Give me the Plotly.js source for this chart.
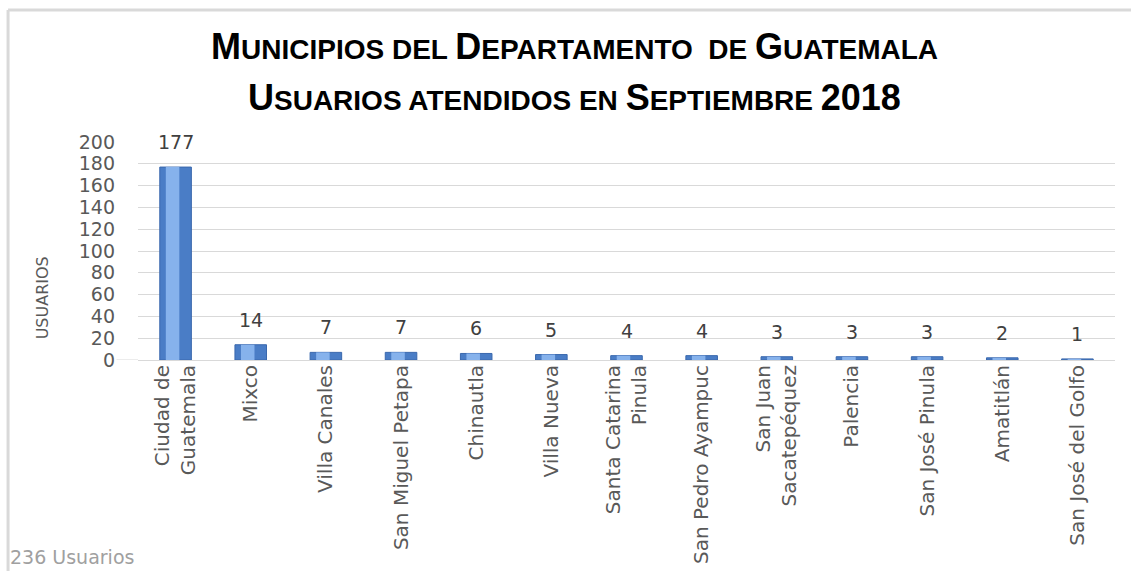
<!DOCTYPE html>
<html>
<head>
<meta charset="utf-8">
<script src="https://cdn.plot.ly/plotly-3.0.1.min.js"></script>
<style>html,body{margin:0;padding:0;background:#fff;}#chart{width:1131px;height:571px;}</style>
</head>
<body>
<div id="chart"></div>
<script>
const municipios = ["Ciudad de<br>Guatemala","Mixco","Villa Canales","San Miguel Petapa","Chinautla","Villa Nueva","Santa Catarina<br>Pinula","San Pedro Ayampuc","San Juan<br>Sacatepéquez","Palencia","San José Pinula","Amatitlán","San José del Golfo"];
const usuarios = [177,14,7,7,6,5,4,4,3,3,3,2,1];
const yTicks = [0,20,40,60,80,100,120,140,160,180,200];
const titleLine1 = "MUNICIPIOS DEL DEPARTAMENTO  DE GUATEMALA";
const titleLine2 = "USUARIOS ATENDIDOS EN SEPTIEMBRE 2018";
const yTitle = "USUARIOS";
const footer = "236 Usuarios";

function smallCaps(s, big, small){
  return s.split(" ").map(w => {
    if (!w) return "";
    if (/^[0-9]+$/.test(w)) return '<span style="font-size:'+big+'px">'+w+'</span>';
    if (w === "DEL" || w === "DE" || w === "EN" || w === "ATENDIDOS") {
      return '<span style="font-size:'+small+'px">'+w+'</span>';
    }
    return '<span style="font-size:'+big+'px">'+w[0]+'</span><span style="font-size:'+small+'px">'+w.slice(1)+'</span>';
  }).join(" ");
}

const outer = {
  type: "bar", x: municipios, y: usuarios, width: 0.42,
  marker: {color: "#4a7dc6", line: {color: "#3a68ad", width: 1}},
  hoverinfo: "none", showlegend: false
};
const inner = {
  type: "bar", x: municipios, y: usuarios, width: 0.18, offset: -0.13,
  marker: {color: "#86b2ec", line: {width: 0}},
  hoverinfo: "none", showlegend: false
};

const ann = usuarios.map((v, i) => ({
  x: municipios[i], y: v, xref: "x", yref: "y", text: String(v),
  showarrow: false, yanchor: "bottom", yshift: 12,
  font: {family: "DejaVu Sans", size: 19, color: "#404040"}
}));

const layout = {
  width: 1131, height: 571,
  margin: {l: 138, r: 16, t: 142, b: 211},
  paper_bgcolor: "#ffffff", plot_bgcolor: "#ffffff",
  barmode: "overlay",
  xaxis: {
    type: "category", tickangle: -90, showgrid: false, showline: false, ticks: "",
    tickfont: {family: "DejaVu Sans", size: 20, color: "#595959"}, automargin: false
  },
  yaxis: {
    range: [0, 200], tickvals: yTicks, showgrid: true, gridcolor: "#d9d9d9", gridwidth: 1,
    zeroline: true, zerolinecolor: "#d9d9d9", zerolinewidth: 1, showline: false,
    ticks: "", ticklabelstandoff: 22,
    tickfont: {family: "DejaVu Sans", size: 19, color: "#595959"}, automargin: false, fixedrange: true
  },
  shapes: [
    {type: "line", xref: "paper", yref: "y", x0: -0.022, x1: 0, y0: 0, y1: 0, line: {color: "#d9d9d9", width: 1}},
    {type: "line", xref: "paper", yref: "paper", x0: -0.133, x1: 1.2, y0: 1.605, y1: 1.605, line: {color: "#d9d9d9", width: 3}},
    {type: "line", xref: "paper", yref: "paper", x0: -0.133, x1: -0.133, y0: 1.605, y1: -0.97, line: {color: "#d9d9d9", width: 3}}
  ],
  annotations: ann.concat([
    {xref: "paper", yref: "paper", x: 0.447, xanchor: "center", y: 1.436, yanchor: "middle",
     text: smallCaps(titleLine1, 36, 28), showarrow: false,
     font: {family: "Liberation Sans", size: 28, color: "#000000", weight: "bold"}},
    {xref: "paper", yref: "paper", x: 0.447, xanchor: "center", y: 1.202, yanchor: "middle",
     text: smallCaps(titleLine2, 36, 28), showarrow: false,
     font: {family: "Liberation Sans", size: 28, color: "#000000", weight: "bold"}},
    {xref: "paper", yref: "paper", x: -0.098, xanchor: "center", y: 0.284, yanchor: "middle",
     text: yTitle, textangle: -90, showarrow: false,
     font: {family: "DejaVu Sans", size: 16, color: "#595959"}},
    {xref: "paper", yref: "paper", x: -0.133, xanchor: "left", y: -0.905, yanchor: "middle", xshift: 0,
     text: footer, showarrow: false,
     font: {family: "DejaVu Sans", size: 19, color: "#a0a0a0"}}
  ])
};

Plotly.newPlot("chart", [outer, inner], layout, {displayModeBar: false, staticPlot: true});
</script>
</body>
</html>
